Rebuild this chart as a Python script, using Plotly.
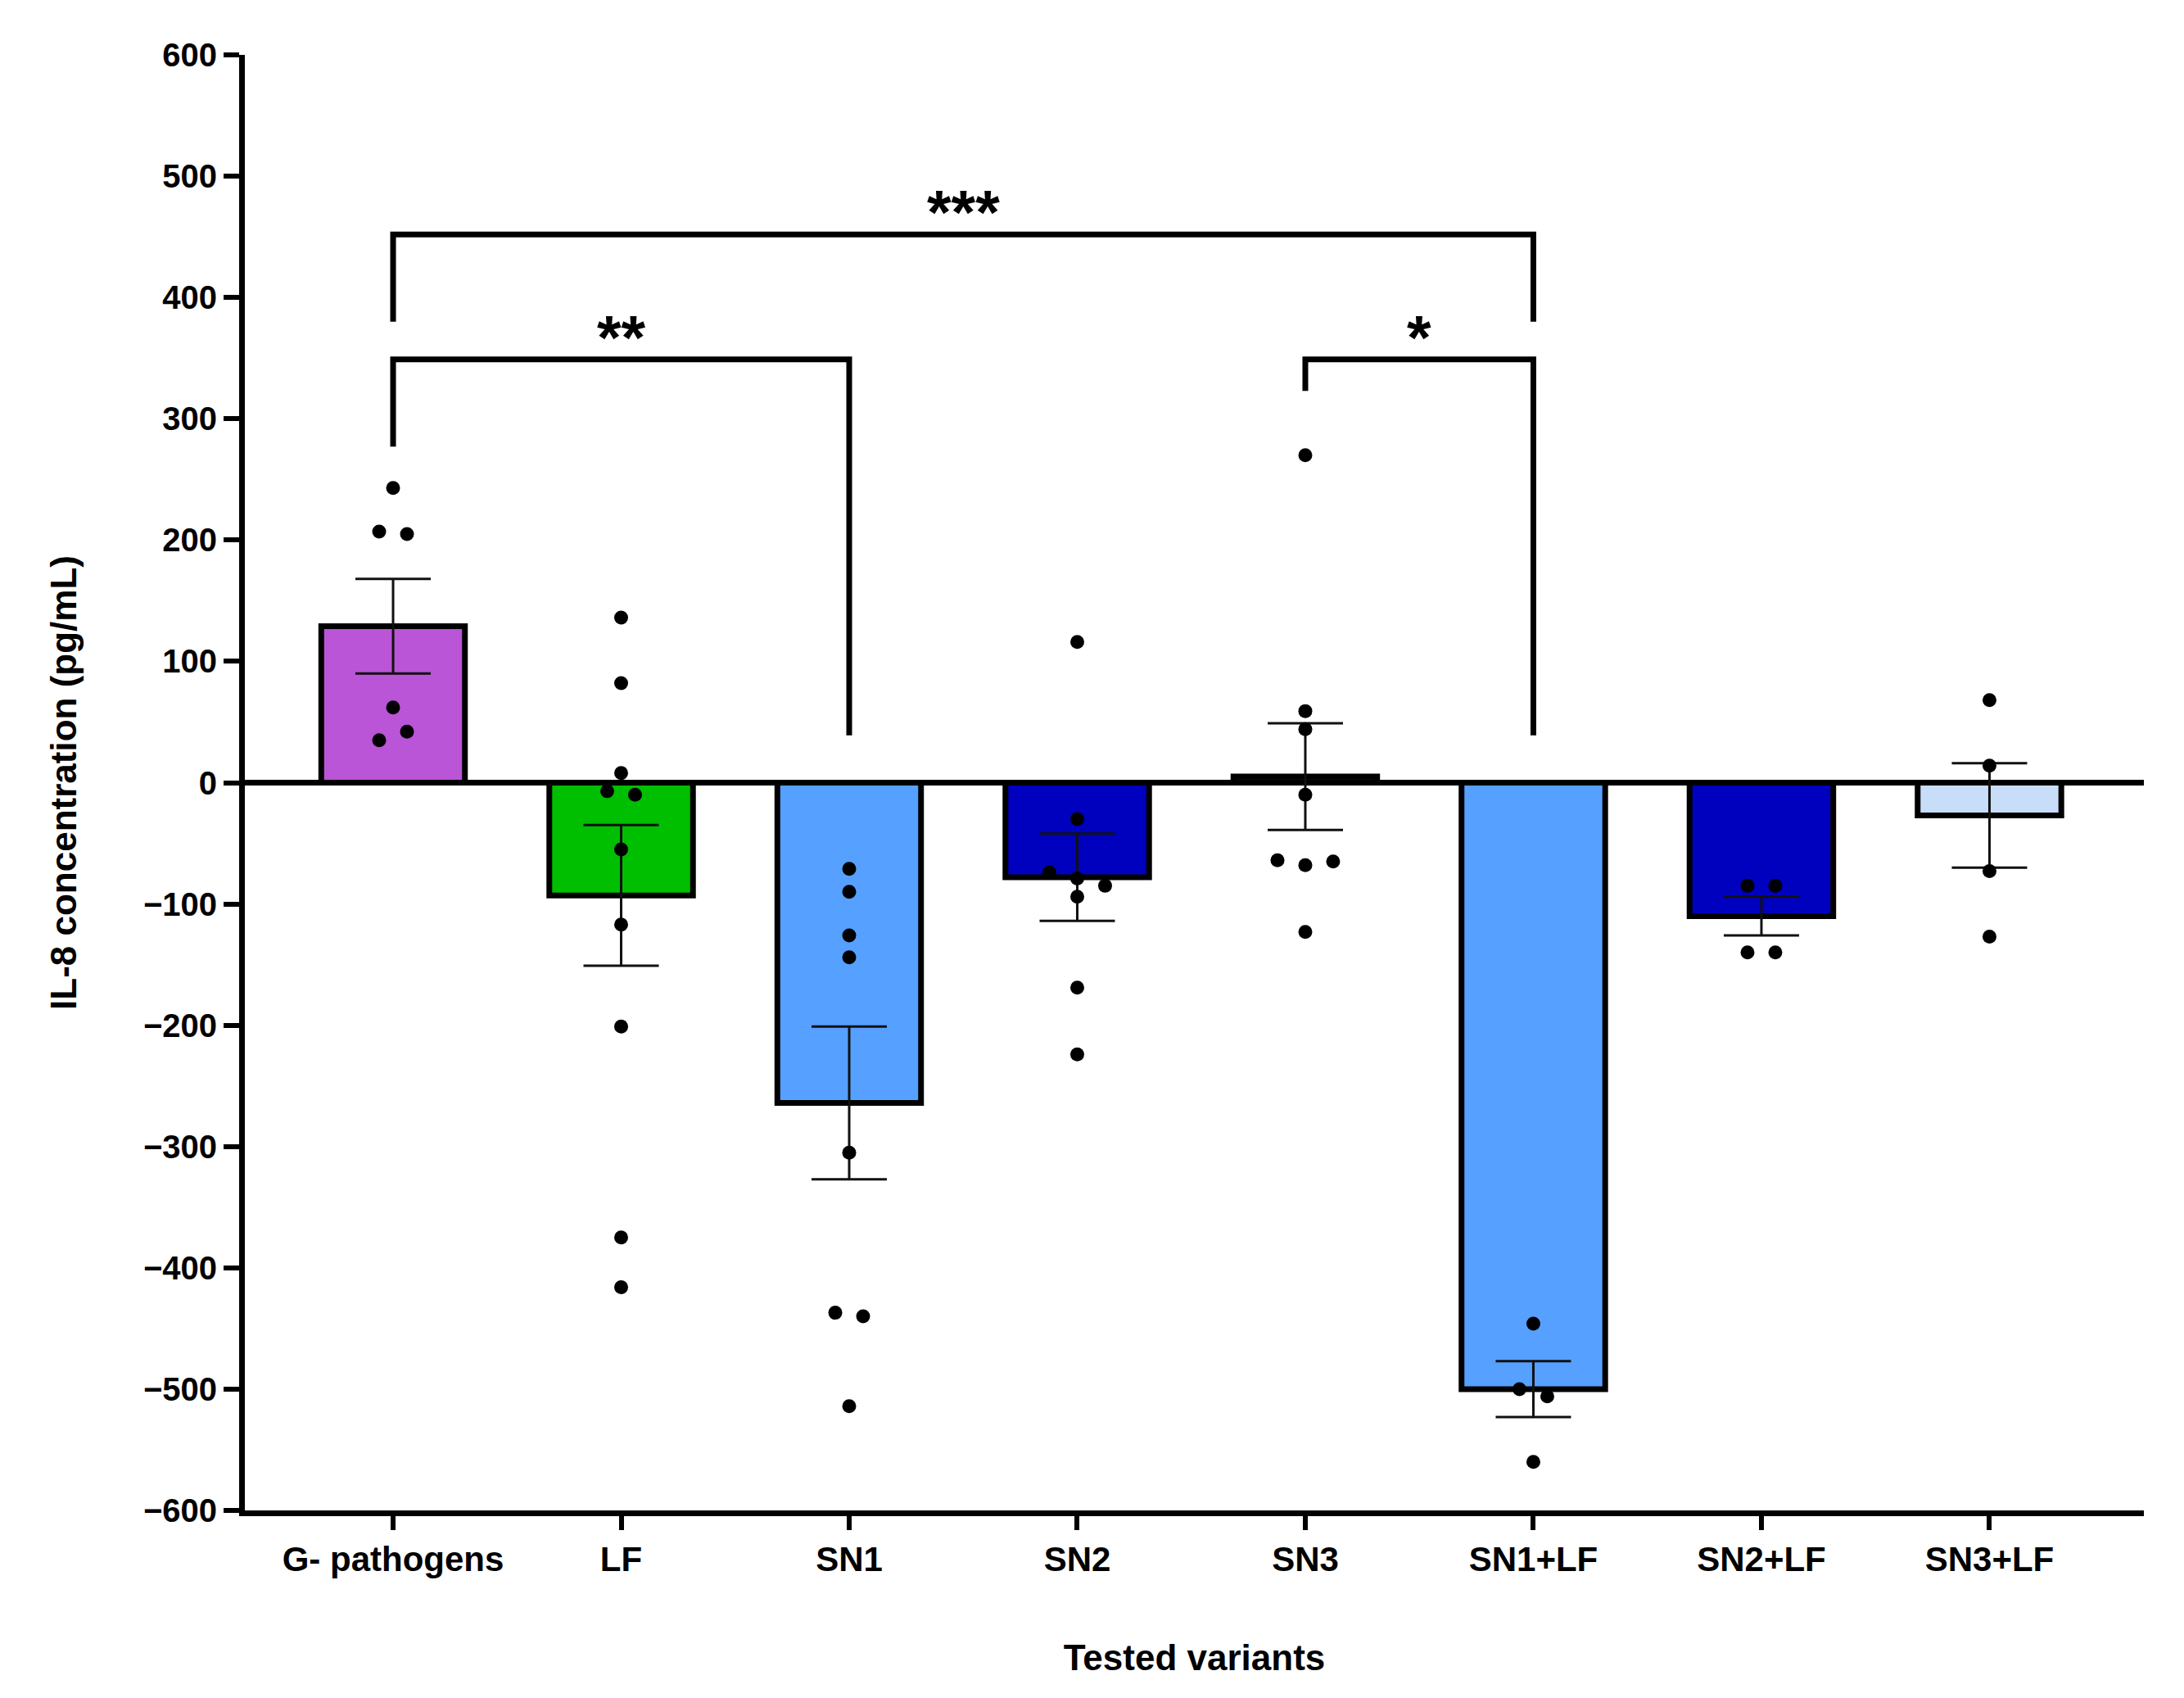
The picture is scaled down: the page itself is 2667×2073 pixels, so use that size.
import plotly.graph_objects as go

# values (pg/mL)
categories = ["G- pathogens", "LF", "SN1", "SN2", "SN3", "SN1+LF", "SN2+LF", "SN3+LF"]
means = [129, -93, -264, -78, 5, -500, -110, -27]
sem = [39, 58, 63, 36, 44, 23, 16, 43]
colors = ["#B955D6", "#00BF00", "#56A0FF", "#0000BF", "#0000BF", "#56A0FF", "#0000BF", "#C7DDF8"]

pts_g = [243, 207, 205, 62, 35, 42]
pts_lf = [136, 82, 8, -7, -10, -55, -117, -201, -375, -416]
pts_sn1 = [-71, -90, -126, -144, -305, -437, -440, -514]
pts_sn2 = [116, -30, -74, -79, -85, -94, -169, -224]
pts_sn3 = [270, 59, 44, -10, -64, -68, -65, -123]
pts_sn1lf = [-446, -500, -506, -560]
pts_sn2lf = [-85, -85, -140, -140]
pts_sn3lf = [68, 14, -73, -127]
points = [pts_g, pts_lf, pts_sn1, pts_sn2, pts_sn3, pts_sn1lf, pts_sn2lf, pts_sn3lf]

# significance brackets: left group, right group, bar height, left foot, right foot, label
brackets = [
    (0, 5, 452, 380, 380, "***"),
    (0, 2, 349, 277, 39, "**"),
    (4, 5, 349, 323, 39, "*"),
]

FONT = "Liberation Sans, Arial, sans-serif"


def spread(vals, row=12, step=0.122):
    # GraphPad-like scatter: points in the same value row are spread sideways
    order = sorted(range(len(vals)), key=lambda i: -vals[i])
    rows, cur = [], []
    for i in order:
        if cur and vals[cur[0]] - vals[i] > row:
            rows.append(cur)
            cur = []
        cur.append(i)
    rows.append(cur)
    off = [0.0] * len(vals)
    for r in rows:
        r = sorted(r)
        n = len(r)
        for k, i in enumerate(r):
            off[i] = (k - (n - 1) / 2) * step
    return off


fig = go.Figure()

xs = list(range(len(categories)))
fig.add_trace(go.Bar(
    x=xs, y=means, width=0.63,
    marker=dict(color=colors, line=dict(color="black", width=7)),
    error_y=dict(type="data", array=sem, color="#111111", thickness=3, width=46),
    showlegend=False,
))

px, py = [], []
for i, vals in enumerate(points):
    for v, o in zip(vals, spread(vals)):
        px.append(i + o)
        py.append(v)
fig.add_trace(go.Scatter(
    x=px, y=py, mode="markers",
    marker=dict(color="black", size=17, line=dict(width=0)),
    showlegend=False, cliponaxis=False,
))

for a, b, top, fa, fb, label in brackets:
    fig.add_trace(go.Scatter(
        x=[a, a, b, b], y=[fa, top, top, fb], mode="lines",
        line=dict(color="black", width=7), showlegend=False,
    ))
    fig.add_annotation(
        x=(a + b) / 2, y=top, text=label, showarrow=False,
        yanchor="bottom", yshift=-17,
        font=dict(family=FONT, size=76, color="black", weight="bold"),
    )

fig.update_layout(
    width=2667, height=2073,
    margin=dict(l=291, r=57, t=59, b=237),
    plot_bgcolor="white", paper_bgcolor="white",
    font=dict(family=FONT, color="black"),
)
fig.update_xaxes(
    range=[-0.65, 7.677], tickvals=xs, ticktext=categories,
    showline=True, linecolor="black", linewidth=7,
    ticks="outside", ticklen=17, tickwidth=6, tickcolor="black",
    tickfont=dict(family=FONT, size=42, weight="bold"),
    showgrid=False, zeroline=False,
    title=dict(text="Tested variants", standoff=84,
               font=dict(family=FONT, size=44, weight="bold")),
)
fig.update_yaxes(
    range=[-600, 600], tickvals=list(range(-600, 601, 100)),
    showline=True, linecolor="black", linewidth=7,
    ticks="outside", ticklen=19, tickwidth=6, tickcolor="black",
    tickfont=dict(family=FONT, size=40, weight="bold"),
    showgrid=False, zeroline=True, zerolinecolor="black", zerolinewidth=7,
    title=dict(text="IL-8 concentration (pg/mL)", standoff=70,
               font=dict(family=FONT, size=44, weight="bold")),
)

fig.write_html("out.html")
